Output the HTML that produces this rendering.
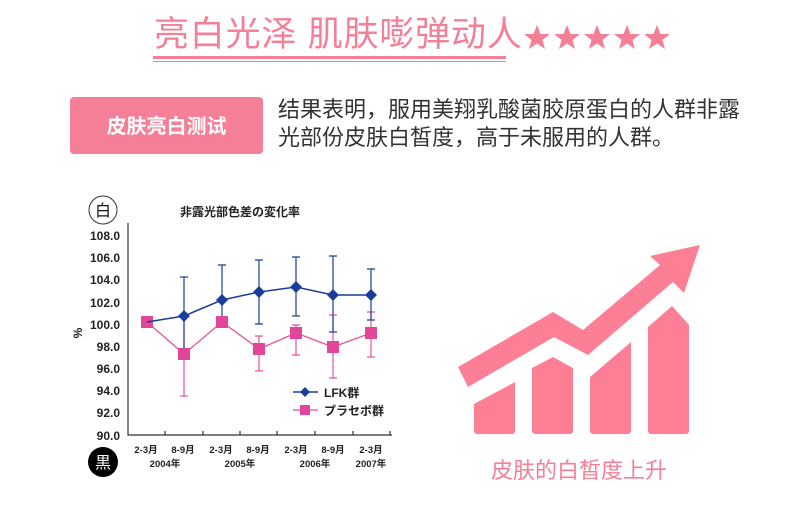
<!DOCTYPE html>
<html><head><meta charset="utf-8"><style>
html,body{margin:0;padding:0;background:#fff;width:790px;height:525px;overflow:hidden}
svg{display:block}
.cj{font-family:"Liberation Sans","Noto Sans CJK SC",sans-serif}
.jp{font-family:"Liberation Sans","Noto Sans CJK JP",sans-serif}
</style></head><body>
<svg width="790" height="525" viewBox="0 0 790 525" xmlns="http://www.w3.org/2000/svg">
<!-- title -->
<text x="154" y="46" class="cj" font-size="35" letter-spacing="0.8" fill="#f47f96">亮白光泽 肌肤嘭弹动人</text>
<g fill="#f47f96">
<polygon id="st" points="537,25 540.5,34 550,34 542.5,40 545,49 537,43.5 529,49 531.5,40 524,34 533.5,34"/>
<use href="#st" x="30"/><use href="#st" x="60"/><use href="#st" x="90"/><use href="#st" x="120"/>
</g>
<rect x="153" y="56" width="353" height="3" fill="#f47f96"/>
<rect x="153" y="61" width="353" height="1" fill="#f47f96"/>
<!-- button -->
<rect x="70" y="97" width="193" height="57" rx="4" fill="#f47f96"/>
<text x="166.5" y="133" text-anchor="middle" class="cj" font-size="20" font-weight="bold" fill="#fff">皮肤亮白测试</text>
<text x="278" y="117" class="cj" font-size="22" fill="#333">结果表明，服用美翔乳酸菌胶原蛋白的人群非露</text>
<text x="278" y="145" class="cj" font-size="22" fill="#333">光部份皮肤白皙度，高于未服用的人群。</text>
<!-- left chart -->
<circle cx="103" cy="210" r="14" fill="#fff" stroke="#333" stroke-width="1"/>
<text x="103" y="216" text-anchor="middle" class="jp" font-size="16" fill="#111">白</text>
<circle cx="103" cy="462" r="15" fill="#000"/>
<text x="103" y="468" text-anchor="middle" class="jp" font-size="16" fill="#fff">黒</text>
<text x="180" y="216" class="jp" font-size="12" font-weight="bold" fill="#222">非露光部色差の変化率</text>
<text x="82" y="333" class="jp" font-size="12" font-weight="bold" fill="#222" transform="rotate(-90 82 333)" text-anchor="middle">%</text>
<g class="jp" font-size="12" font-weight="bold" fill="#222" text-anchor="end">
<text x="120" y="240">108.0</text><text x="120" y="262">106.0</text><text x="120" y="284">104.0</text>
<text x="120" y="307">102.0</text><text x="120" y="329">100.0</text><text x="120" y="351">98.0</text>
<text x="120" y="373">96.0</text><text x="120" y="395">94.0</text><text x="120" y="417">92.0</text>
<text x="120" y="440">90.0</text>
</g>
<path d="M128,223V435H392" fill="none" stroke="#333" stroke-width="1.2"/>
<path d="M165,435v-4M203,435v-4M240,435v-4M277,435v-4M315,435v-4M353,435v-4M390,435v-4" stroke="#333" stroke-width="1.2"/>
<g class="jp" font-size="9.5" font-weight="bold" fill="#222" text-anchor="middle">
<text x="146" y="453">2-3月</text><text x="183" y="453">8-9月</text>
<text x="221" y="453">2-3月</text><text x="258" y="453">8-9月</text>
<text x="296" y="453">2-3月</text><text x="333" y="453">8-9月</text>
<text x="371" y="453">2-3月</text>
<text x="165" y="467">2004年</text><text x="240" y="467">2005年</text><text x="315" y="467">2006年</text><text x="371" y="467">2007年</text>
</g>
<g stroke="#e8559a" stroke-width="1.2">
<path d="M184,396V317M180,396h8M180,317h8"/>
<path d="M222,323V317M218,323h8M218,317h8"/>
<path d="M259,371V336M255,371h8M255,336h8"/>
<path d="M296,355V325M292,355h8M292,325h8"/>
<path d="M333,378V315M329,378h8M329,315h8"/>
<path d="M371,357V312M367,357h8M367,312h8"/>
</g>
<g stroke="#1a3d99" stroke-width="1.2">
<path d="M184,360V277M180,277h8"/>
<path d="M222,324V265M218,324h8M218,265h8"/>
<path d="M259,324V260M255,324h8M255,260h8"/>
<path d="M296,316V257M292,316h8M292,257h8"/>
<path d="M333,332V256M329,332h8M329,256h8"/>
<path d="M371,320V269M367,320h8M367,269h8"/>
</g>
<polyline points="147,322 184,354 222,322 259,349 296,333 333,347 371,333" fill="none" stroke="#e8559a" stroke-width="1.3"/>
<g fill="#e0479a">
<rect x="141" y="316" width="12" height="12"/><rect x="178" y="348" width="12" height="12"/>
<rect x="216" y="316" width="12" height="12"/><rect x="253" y="343" width="12" height="12"/>
<rect x="290" y="327" width="12" height="12"/><rect x="327" y="341" width="12" height="12"/>
<rect x="365" y="327" width="12" height="12"/>
</g>
<polyline points="147,322 184,316 222,300 259,292 296,287 333,295 371,295" fill="none" stroke="#1a3d99" stroke-width="1.5"/>
<g fill="#1a3d99">
<path d="M184,310l6,6-6,6-6-6z"/><path d="M222,294l6,6-6,6-6-6z"/><path d="M259,286l6,6-6,6-6-6z"/>
<path d="M296,281l6,6-6,6-6-6z"/><path d="M333,289l6,6-6,6-6-6z"/><path d="M371,289l6,6-6,6-6-6z"/>
</g>
<path d="M293,392H318" stroke="#1a3d99" stroke-width="1.5"/><path d="M305,387l5,5-5,5-5-5z" fill="#1a3d99"/>
<path d="M293,410H318" stroke="#e8559a" stroke-width="1.3"/><rect x="300" y="405" width="10" height="10" fill="#e0479a"/>
<text x="324" y="397" class="jp" font-size="12" font-weight="bold" fill="#222">LFK群</text>
<text x="324" y="415" class="jp" font-size="12" font-weight="bold" fill="#222">プラセボ群</text>
<!-- right icon -->
<g fill="#fd7f95">
<path d="M474,404L515,382V431a3,3 0 0 1-3,3H477a3,3 0 0 1-3-3z"/>
<path d="M532,368L553,357L573,368V431a3,3 0 0 1-3,3H535a3,3 0 0 1-3-3z"/>
<path d="M590,377L631,342V431a3,3 0 0 1-3,3H593a3,3 0 0 1-3-3z"/>
<path d="M648,327L672,306L689,325V431a3,3 0 0 1-3,3H651a3,3 0 0 1-3-3z"/>
<polygon points="700,245 650,256 660,265 583,330 553,312 458,367 468,387 554,337 588,355 673,282 684,293"/>
</g>
<text x="579" y="478" text-anchor="middle" class="cj" font-size="22" fill="#f47f96">皮肤的白皙度上升</text>
</svg>
</body></html>
